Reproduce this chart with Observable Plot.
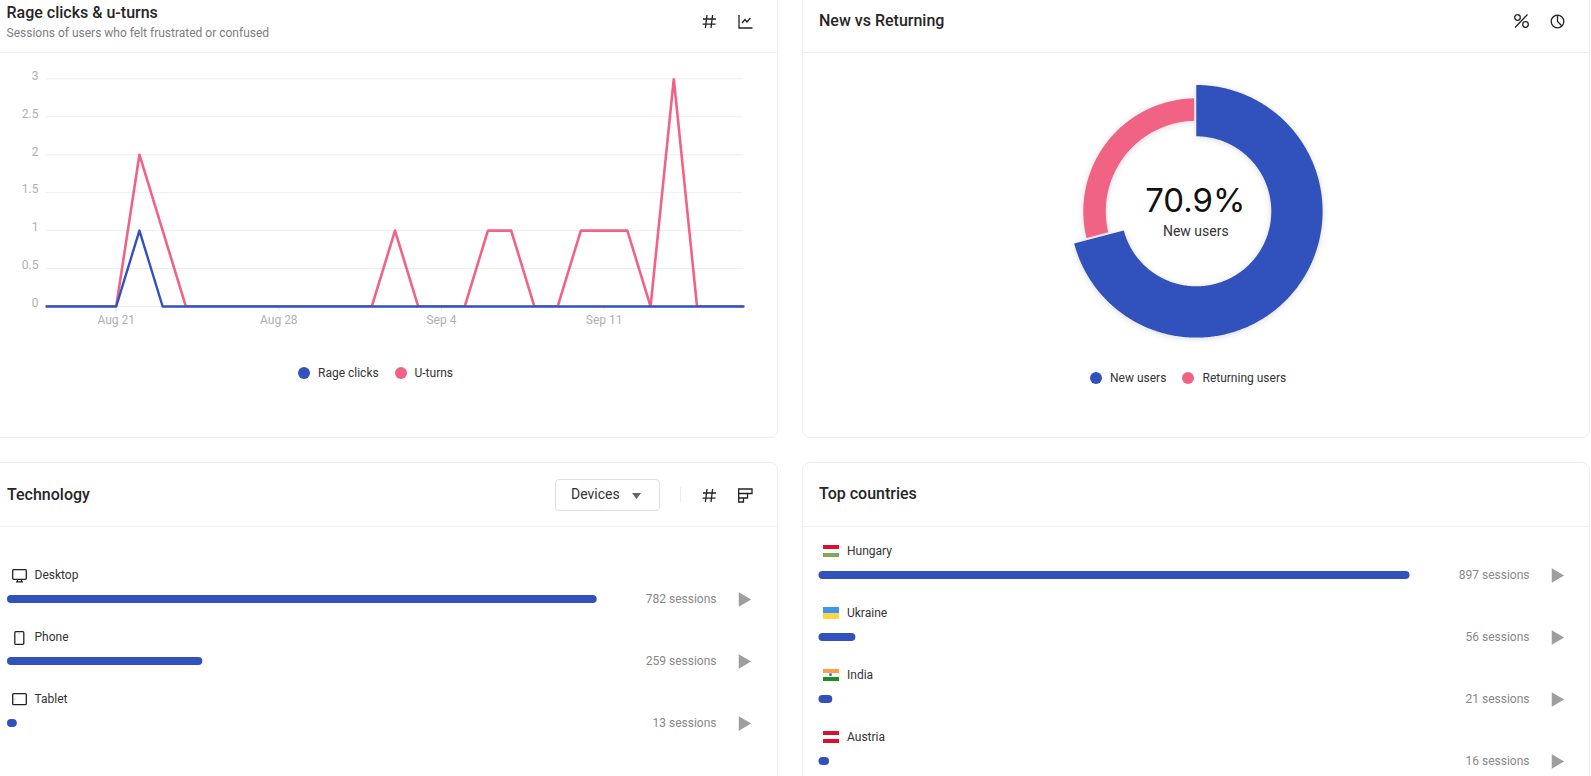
<!DOCTYPE html>
<html><head><meta charset="utf-8">
<script src="https://cdn.jsdelivr.net/npm/d3@7"></script>
<script src="https://cdn.jsdelivr.net/npm/@observablehq/plot@0.6"></script>
<style>
html,body{margin:0;padding:0;background:#fff;width:1591px;height:776px;overflow:hidden;font-family:Roboto,sans-serif;color:#222}
.a{position:absolute}
.card{position:absolute;border:1px solid #eceef1;border-radius:8px;box-sizing:border-box;background:#fff}
.hr{position:absolute;height:1px;background:#eff0f3}
.t{position:absolute;white-space:nowrap;line-height:1;transform:translateY(-50%)}
.title{font-size:16px;font-weight:500;color:#262626}
.sub{font-size:12px;color:#7d7d7d}
.leg{font-size:12px;color:#333}
.dot{position:absolute;width:12px;height:12px;border-radius:50%;transform:translate(-50%,-50%)}
svg.i{position:absolute;fill:none;stroke:#222;stroke-width:1.3}
.flag{position:absolute;width:16px;height:11.4px;display:flex;flex-direction:column}
.flag i{flex:1;display:block}
.plot{position:absolute;overflow:visible}
</style></head><body>
<div id="root"></div>
<script>
const blue = "#3151BD", pink = "#F16385";

// Rage clicks & u-turns
const dates = ["2023-08-18","2023-08-19","2023-08-20","2023-08-21","2023-08-22","2023-08-23","2023-08-24","2023-08-25","2023-08-26","2023-08-27","2023-08-28","2023-08-29","2023-08-30","2023-08-31","2023-09-01","2023-09-02","2023-09-03","2023-09-04","2023-09-05","2023-09-06","2023-09-07","2023-09-08","2023-09-09","2023-09-10","2023-09-11","2023-09-12","2023-09-13","2023-09-14","2023-09-15","2023-09-16","2023-09-17"];
const rageClicks = [0,0,0,0,1,0,0,0,0,0,0,0,0,0,0,0,0,0,0,0,0,0,0,0,0,0,0,0,0,0,0];
const uTurns     = [0,0,0,0,2,1,0,0,0,0,0,0,0,0,0,1,0,0,0,1,1,0,0,1,1,1,0,3,0,0,0];
const yTicks = [0,0.5,1,1.5,2,2.5,3];
const xTickDates = ["2023-08-21","2023-08-28","2023-09-04","2023-09-11"];

// New vs Returning
const userTypes = ["New users","Returning users"];
const userShares = [70.9,29.1];

// Technology
const devices = ["Desktop","Phone","Tablet"];
const deviceSessions = [782,259,13];

// Top countries
const countries = ["Hungary","Ukraine","India","Austria"];
const countrySessions = [897,56,21,16];

const root = document.getElementById("root");
function add(html){ root.insertAdjacentHTML("beforeend", html); }
function text(cls,x,y,s,extra=""){ add(`<div class="t ${cls}" style="left:${x}px;top:${y}px;${extra}">${s}</div>`); }
function icon(x,y,w,h,inner,extra=""){ add(`<svg class="i" style="left:${x}px;top:${y}px;${extra}" width="${w}" height="${h}" viewBox="0 0 ${w} ${h}">${inner}</svg>`); }

// cards
add(`<div class="card" style="left:-20px;top:-20px;width:798px;height:458px"></div>`);
add(`<div class="card" style="left:802px;top:-20px;width:788px;height:458px"></div>`);
add(`<div class="card" style="left:-20px;top:462px;width:798px;height:400px"></div>`);
add(`<div class="card" style="left:802px;top:462px;width:788px;height:400px"></div>`);
add(`<div class="hr" style="left:0;top:52px;width:777px"></div><div class="hr" style="left:803px;top:52px;width:786px"></div>`);
add(`<div class="hr" style="left:0;top:526px;width:777px"></div><div class="hr" style="left:803px;top:526px;width:786px"></div>`);

// header text
text("title",6.5,13,"Rage clicks &amp; u-turns");
text("sub",6.5,33,"Sessions of users who felt frustrated or confused");
text("title",819,21,"New vs Returning");
text("title",7,494.5,"Technology");
text("title",819,494,"Top countries");

// header icons
const hash = `<path d="M5 1L3.4 14M10.6 1L9 14M1 5H14M0.6 10.2H13.6"/>`;
const stack = `<path d="M0.7 1H14V5.5H0.7ZM0.7 5.5H9.5V10H0.7ZM0.7 10H5.5V14H0.7Z"/>`;
icon(702,14,15,15,hash);
icon(737.5,14,15,15,`<path d="M1 1V14H14.5M4 9L7 5.5L9 8L12.5 4"/>`);
icon(1513,13,17,16,`<path d="M14.5 1.5L2 14.5"/><circle cx="4.5" cy="4.5" r="2.8"/><circle cx="12.5" cy="11.5" r="2.8"/>`);
icon(1549.5,14,15,15,`<circle cx="7.5" cy="7.5" r="6.3"/><path d="M7.5 1.2V7.5L12 12"/>`);
icon(702,488,15,15,hash);
icon(737.5,488,15,15,stack);

// dropdown
add(`<div class="a" style="left:555px;top:479px;width:105px;height:32px;border:1px solid #dfe1e6;border-radius:4px;box-sizing:border-box"></div>`);
text("",571,494,"Devices","font-size:14px;color:#333");
icon(631.5,493,9,6,`<path d="M0 0H9L4.5 6Z" fill="#666" stroke="none"/>`);
add(`<div class="a" style="left:680px;top:487px;width:1px;height:16px;background:#eceef1"></div>`);

// line chart legend
add(`<div class="dot" style="left:304px;top:373px;background:${blue}"></div>`);
text("leg",318,372.5,"Rage clicks");
add(`<div class="dot" style="left:401px;top:373px;background:${pink}"></div>`);
text("leg",414.5,372.5,"U-turns");

// donut legend
add(`<div class="dot" style="left:1096px;top:378px;background:${blue}"></div>`);
text("leg",1110,377.5,"New users");
add(`<div class="dot" style="left:1188px;top:378px;background:${pink}"></div>`);
text("leg",1202.5,377.5,"Returning users");

// device icons
icon(12,569,15,14,`<rect x="0.7" y="0.7" width="13.6" height="9.6" rx="1"/><path d="M5.5 10.5V12.6M9.5 10.5V12.6M4 12.8H11"/>`);
icon(14,631,11,14,`<rect x="0.8" y="0.7" width="9" height="12.6" rx="1"/><path d="M5.3 2.4V3" stroke="#888"/>`);
icon(12,693,15,13,`<rect x="0.7" y="0.7" width="13.6" height="11" rx="1"/><path d="M2.5 6.2H3.1" stroke="#888"/>`);

// flags
function flag(y,cols,extra=""){ add(`<div class="flag" style="left:822.7px;top:${y}px">${cols.map(c=>`<i style="background:${c}"></i>`).join("")}${extra}</div>`); }
flag(545.3,["#D9102E","#fff","#7FA955"]);
flag(607.3,["#3E95F0","#FFD740"]);
flag(669.3,["#FF9D4D","#fff","#1E8E1E"],`<span style="position:absolute;left:6.5px;top:4.2px;width:3px;height:3px;border-radius:50%;background:#5a6aa8"></span>`);
flag(731.3,["#D9102E","#fff","#D9102E"]);

const parse = d3.utcParse("%Y-%m-%d");
const rows = dates.map((d,i)=>({date:parse(d),rage:rageClicks[i],uturn:uTurns[i]}));
const baseStyle = {fontFamily:"Roboto,sans-serif",fontSize:"12px",background:"transparent",overflow:"visible"};

// line chart
const line = Plot.plot({
  width:778,height:345,marginLeft:46,marginRight:35,marginTop:78.3,marginBottom:39,
  style:baseStyle,
  x:{type:"utc",domain:[rows[0].date,rows[rows.length-1].date]},
  y:{domain:[0,3]},
  marks:[
    Plot.gridY(yTicks,{stroke:"#eceef1",strokeOpacity:1}),
    Plot.axisY({ticks:yTicks,tickSize:0,tickPadding:8,fill:"#b0b0b0",dy:-3,label:null,tickFormat:d=>String(d)}),
    Plot.axisX({ticks:xTickDates.map(parse),tickSize:5,tickPadding:4,fill:"#b0b0b0",stroke:"#e8e8e8",label:null,tickFormat:d3.utcFormat("%b %-d")}),
    Plot.line(rows,{x:"date",y:"uturn",stroke:pink,strokeWidth:2.6,clip:"frame"}),
    Plot.line(rows,{x:"date",y:"rage",stroke:blue,strokeWidth:2.4})
  ]
});
line.classList.add("plot"); line.style.left="0px"; line.style.top="0px";
root.appendChild(line);

// donut
const cx=1196.3-1040, cy=211.3-70;
const geom = {"New users":{outer:126.3,inner:75,gap:0},"Returning users":{outer:113,inner:90.5,gap:2.2}};
const slices = d3.pie().sort(null).startAngle(0).endAngle(2*Math.PI).value(d=>d.share)(userTypes.map((name,i)=>({name,share:userShares[i]})));
const ring = slices.flatMap(s=>{
  const g=geom[s.data.name], out=[], n=Math.ceil((s.endAngle-s.startAngle)/0.01);
  for(let k=0;k<=n;k++){
    const f=k/n;
    const ao=s.startAngle+g.gap/g.outer+f*(s.endAngle-s.startAngle-2*g.gap/g.outer);
    const ai=s.startAngle+g.gap/g.inner+f*(s.endAngle-s.startAngle-2*g.gap/g.inner);
    out.push({name:s.data.name,
      ox:g.outer*Math.sin(ao),oy:g.outer*Math.cos(ao),
      ix:g.inner*Math.sin(ai),iy:g.inner*Math.cos(ai)});
  }
  return out;
});
const W=320,H=290;
const donut = Plot.plot({
  width:W,height:H,margin:0,style:{...baseStyle,fontSize:"14px"},
  x:{domain:[-cx,W-cx],axis:null},
  y:{domain:[cy-H,cy],axis:null},
  color:{domain:userTypes,range:[blue,pink]},
  marks:[
    Plot.area(ring,{x1:"ox",y1:"oy",x2:"ix",y2:"iy",fill:"name",z:"name"}),
    Plot.text([`${userShares[0]}%`],{x:()=>-1.5,y:()=>10,text:d=>d,fontFamily:"Inter",fontSize:33,fill:"#111",stroke:"none",letterSpacing:"-0.6px"}),
    Plot.text([userTypes[0]],{x:()=>-1,y:()=>-19.5,text:d=>d,fontSize:14,fill:"#333"})
  ]
});
donut.classList.add("plot"); donut.style.left="1040px"; donut.style.top="70px";
const ag=donut.querySelector('[aria-label="area"]'); if(ag) ag.style.filter="drop-shadow(0 1px 3px rgba(0,0,0,.15))";
root.appendChild(donut);

// horizontal bars
function bars(names,values,opts){
  const data=names.map((name,i)=>({name,value:values[i]}));
  const p=1-8/62;
  const chart=Plot.plot({
    width:opts.w,height:opts.h,marginLeft:opts.left,marginRight:opts.right,marginTop:opts.top,marginBottom:opts.h-opts.top-62*names.length,
    style:baseStyle,
    x:{domain:[0,values[0]],range:[opts.left,opts.barEnd],axis:null},
    y:{domain:names,paddingInner:p,paddingOuter:p/2,axis:null},
    marks:[
      Plot.barX(data,{x:"value",y:"name",fill:blue,rx:4}),
      Plot.text(data,{y:"name",frameAnchor:"left",dx:opts.labelDx,dy:-24,text:"name",textAnchor:"start",fill:"#333"}),
      Plot.text(data,{y:"name",frameAnchor:"right",text:d=>`${d.value} sessions`,textAnchor:"end",fill:"#888"}),
      Plot.dot(data,{y:"name",frameAnchor:"right",dx:opts.playDx,symbol:"triangle",rotate:90,r:5.3,fill:"#9e9e9e",stroke:"none"})
    ]
  });
  chart.classList.add("plot"); chart.style.left=opts.x+"px"; chart.style.top="527px";
  root.appendChild(chart);
}
bars(devices,deviceSessions,{x:0,w:778,h:249,left:7,right:62,top:41,barEnd:596.7,labelDx:27,playDx:26.4});
bars(countries,countrySessions,{x:802,w:787,h:270,left:16.5,right:60,top:17,barEnd:607.5,labelDx:28,playDx:26.4});
</script>
</body></html>
